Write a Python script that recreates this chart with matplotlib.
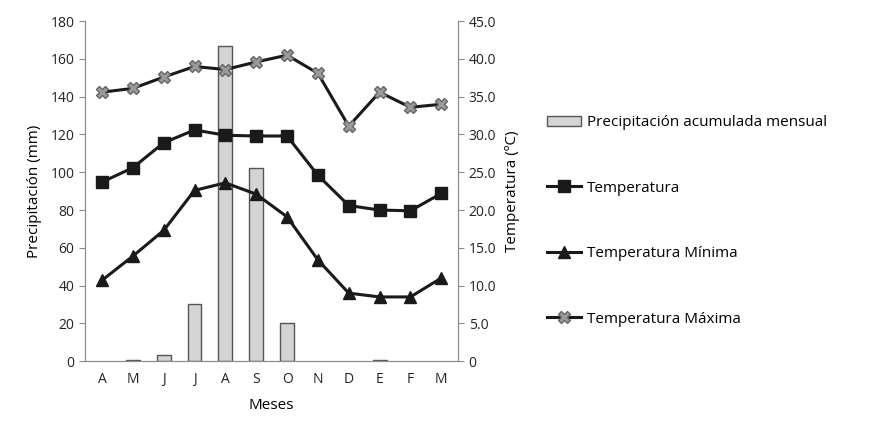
import matplotlib
matplotlib.use("Agg")
import matplotlib.pyplot as plt
from matplotlib.patches import Patch
from matplotlib.ticker import FuncFormatter

plt.rcParams['font.family'] = ['Open Sans', 'DejaVu Sans']

meses = ['A', 'M', 'J', 'J', 'A', 'S', 'O', 'N', 'D', 'E', 'F', 'M']
precip = [0, 0.5, 3, 30, 167, 102, 20, 0, 0, 0.5, 0, 0]
temp = [23.7, 25.6, 28.9, 30.6, 29.9, 29.8, 29.8, 24.6, 20.6, 20.0, 19.9, 22.2]
temp_min = [10.7, 13.9, 17.3, 22.6, 23.6, 22.1, 19.1, 13.4, 9.0, 8.5, 8.5, 11.0]
temp_max = [35.6, 36.1, 37.6, 39.0, 38.6, 39.6, 40.5, 38.1, 31.1, 35.6, 33.6, 34.0]

x = list(range(len(meses)))
gris = '#8c8c8c'

fig = plt.figure(figsize=(8.72, 4.32), dpi=100)
ax = fig.add_axes([0.0975, 0.164, 0.428, 0.787])
ax2 = ax.twinx()

# barras vacias sin borde
bordes = ['#555555' if p > 0 else 'none' for p in precip]
ax.bar(x, precip, width=0.45, color='#d4d4d4', edgecolor=bordes,
       linewidth=1.0, zorder=2)
b = Patch(facecolor='#d4d4d4', edgecolor='#555555', linewidth=1.0,
          label='Precipitación acumulada mensual')
l1, = ax2.plot(x, temp, color='#1a1a1a', lw=2.2, marker='s', ms=8,
               mec='#1a1a1a', mfc='#1a1a1a', label='Temperatura')
l2, = ax2.plot(x, temp_min, color='#1a1a1a', lw=2.2, marker='^', ms=9,
               mec='#1a1a1a', mfc='#1a1a1a', label='Temperatura Mínima')
l3, = ax2.plot(x, temp_max, color='#1a1a1a', lw=2.2, marker='X', ms=9,
               mec='#666666', mfc='#9a9a9a', label='Temperatura Máxima')

ax.set_xlim(-0.55, 11.55)
ax.set_ylim(0, 180)
ax.set_yticks(range(0, 181, 20))
ax2.set_ylim(0, 45)
ax2.set_yticks([i * 5 for i in range(10)])
ax2.yaxis.set_major_formatter(FuncFormatter(lambda v, p: '0' if v == 0 else f'{v:.1f}'))

ax.set_xticks(x)
ax.set_xticklabels(meses)

for a in (ax, ax2):
    a.spines['top'].set_visible(False)
    for s in ('left', 'right', 'bottom'):
        a.spines[s].set_color(gris)
    a.tick_params(colors='#222222', labelsize=10, length=4, width=0.8)
    a.tick_params(axis='y', color=gris)
ax.tick_params(axis='x', length=0, pad=8)

ax.set_ylabel('Precipitación (mm)', fontsize=11, labelpad=6)
ax.set_xlabel('Meses', fontsize=11, labelpad=8)
ax2.set_ylabel('Temperatura (ºC)', fontsize=11, labelpad=6)

fig.legend(handles=[b, l1, l2, l3], loc='upper left',
           bbox_to_anchor=(0.612, 0.765), frameon=False, fontsize=11,
           labelspacing=3.3, handlelength=2.2, handletextpad=0.4)

fig.savefig('out.png', dpi=100)
